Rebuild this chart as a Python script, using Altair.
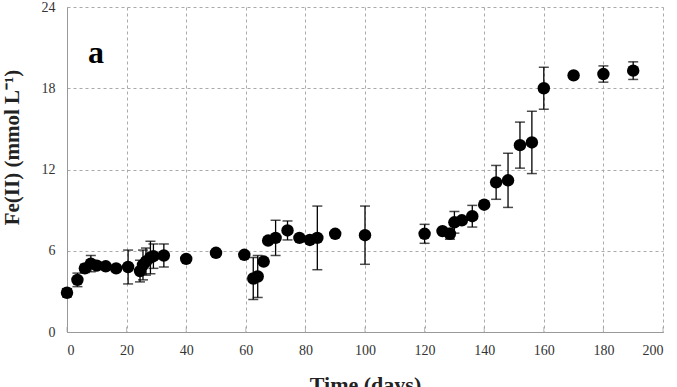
import altair as alt
import pandas as pd

days = [0, 3.5, 6, 8, 10, 13, 16.5, 20.5, 24.5, 25.5, 26.5, 28, 29, 32.5, 40, 50,
        59.5, 62.5, 64, 66, 67.5, 70, 74, 78, 81.5, 84, 90, 100,
        120, 126, 128.5, 130, 132.5, 136, 140, 144, 148, 152, 156, 160, 170, 180, 190]
fe = [2.9, 3.85, 4.7, 5.05, 4.9, 4.85, 4.7, 4.8, 4.5, 4.95, 5.2, 5.5, 5.6, 5.65, 5.4, 5.85,
      5.7, 3.95, 4.1, 5.2, 6.75, 6.95, 7.5, 6.95, 6.8, 6.95, 7.25, 7.15,
      7.25, 7.45, 7.25, 8.1, 8.25, 8.55, 9.4, 11.05, 11.2, 13.8, 14.0, 18.0, 18.95, 19.05, 19.3]
err = [0.3, 0.5, 0.3, 0.6, 0, 0, 0, 1.25, 0.8, 1.1, 1.0, 1.2, 0.9, 0.85, 0, 0,
       0, 1.55, 1.55, 0, 0, 1.3, 0.7, 0, 0, 2.35, 0, 2.15,
       0.7, 0, 0.4, 0.8, 0, 0.8, 0, 1.25, 2.0, 1.7, 2.3, 1.55, 0, 0.6, 0.65]

x_ticks = [0, 20, 40, 60, 80, 100, 120, 140, 160, 180, 200]
y_ticks = [0, 6, 12, 18, 24]
panel_label = ["a"]

df = pd.DataFrame({"day": days, "fe": fe, "err": err})
df["lo"] = df["fe"] - df["err"]
df["hi"] = df["fe"] + df["err"]
df_err = df[df["err"] > 0]

W, H = 596, 325
FONT = "Liberation Serif"

xs = alt.Scale(domain=[0, 200], nice=False)
ys = alt.Scale(domain=[0, 24], nice=False)

xaxis = alt.Axis(values=x_ticks, title="Time (days)", grid=True, gridDash=[3, 3],
                 gridColor="#aaaaaa", domainColor="#999999", ticks=False,
                 labelFont=FONT, labelFontSize=14, labelColor="#333333", labelPadding=11,
                 titleFont=FONT, titleFontSize=22, titleFontWeight="bold",
                 titleColor="#222222", titleBaseline="top", titleAlign="center",
                 titleX=W / 2, titleY=42)
yaxis = alt.Axis(values=y_ticks, title="Fe(II) (mmol L⁻¹)", grid=True, gridDash=[3, 3],
                 gridColor="#aaaaaa", domainColor="#999999", ticks=False,
                 labelFont=FONT, labelFontSize=14, labelColor="#333333", labelPadding=12,
                 titleFont=FONT, titleFontSize=21, titleFontWeight="bold",
                 titleColor="#222222", titleBaseline="middle", titleAlign="center",
                 titleAngle=270, titleX=-55, titleY=140)

points = alt.Chart(df).mark_point(filled=True, shape="circle", size=155, color="black",
                                  opacity=1).encode(
    x=alt.X("day:Q", scale=xs, axis=xaxis),
    y=alt.Y("fe:Q", scale=ys, axis=yaxis),
)

bars = alt.Chart(df_err).mark_rule(color="black", strokeWidth=1.3).encode(
    x=alt.X("day:Q", scale=xs),
    y=alt.Y("lo:Q", scale=ys),
    y2="hi:Q",
)
caps_hi = alt.Chart(df_err).mark_tick(color="black", orient="horizontal", size=10,
                                      thickness=1.5).encode(
    x=alt.X("day:Q", scale=xs), y=alt.Y("hi:Q", scale=ys))
caps_lo = alt.Chart(df_err).mark_tick(color="black", orient="horizontal", size=10,
                                      thickness=1.5).encode(
    x=alt.X("day:Q", scale=xs), y=alt.Y("lo:Q", scale=ys))

xt = alt.Chart(pd.DataFrame({"t": x_ticks})).mark_tick(color="#999999", orient="vertical",
                                                        size=5, thickness=1).encode(
    x=alt.X("t:Q", scale=xs), y=alt.value(H - 2.5))

label = alt.Chart(pd.DataFrame({"t": panel_label})).mark_text(
    font=FONT, fontSize=32, fontWeight="bold", color="black", align="center",
    baseline="middle").encode(x=alt.value(29), y=alt.value(46), text="t:N")

chart = alt.layer(xt, bars, caps_hi, caps_lo, points, label).properties(
    width=W, height=H,
    autosize="none",
    padding={"left": 67, "top": 7, "right": 14, "bottom": 55},
).configure_view(stroke=None)

chart.save("out.html", embed_options={"renderer": "svg", "actions": False})
